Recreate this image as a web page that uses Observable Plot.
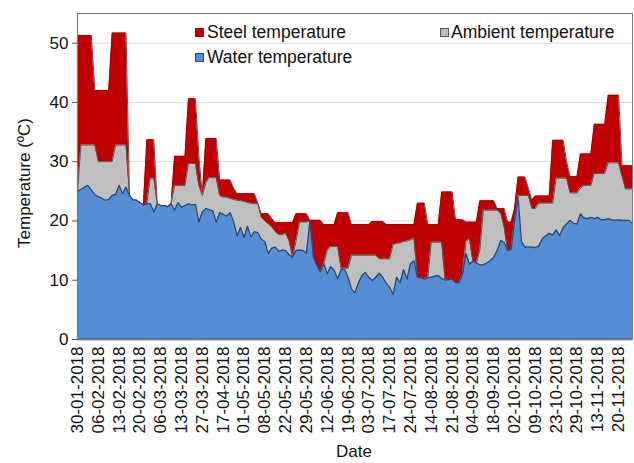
<!DOCTYPE html>
<html><head><meta charset="utf-8">
<script src="https://cdn.jsdelivr.net/npm/d3@7"></script>
<script src="https://cdn.jsdelivr.net/npm/@observablehq/plot@0.6"></script>
<style>
body{margin:0;background:#fff;font-family:"Liberation Sans",Arial,sans-serif;}
#wrap{position:relative;width:634px;height:463px;overflow:hidden;}
.leg{position:absolute;font-size:17.5px;line-height:20px;color:#111;white-space:nowrap;}
.sw{position:absolute;width:9px;height:9px;box-sizing:border-box;}
.ttl{position:absolute;font-size:17px;line-height:17px;color:#111;white-space:nowrap;}
</style></head><body><div id="wrap"></div>
<script>
const labels = ["30-01-2018","06-02-2018","13-02-2018","20-02-2018","06-03-2018","13-03-2018","27-03-2018","17-04-2018","01-05-2018","08-05-2018","22-05-2018","29-05-2018","12-06-2018","19-06-2018","03-07-2018","17-07-2018","24-07-2018","14-08-2018","21-08-2018","04-09-2018","18-09-2018","02-10-2018","09-10-2018","23-10-2018","29-10-2018","13-11-2018","20-11-2018"];
const labelStep = 6; // one labelled date every 6 measurements

const water = [
25.0,25.3,25.7,26.0,25.2,24.4,24.1,23.8,23.5,23.6,
24.3,24.5,26.0,24.6,25.7,24.3,23.5,23.5,23.1,22.7,
22.9,22.9,21.5,22.9,22.6,22.6,22.4,22.9,21.8,23.1,
22.3,22.6,22.9,22.7,22.8,19.8,21.5,22.1,21.9,21.7,
19.8,21.4,21.1,20.8,21.4,19.9,17.5,18.9,17.2,19.1,
17.3,18.2,18.0,16.9,16.5,14.5,15.4,15.6,14.9,15.1,
15.0,14.3,13.9,15.0,15.1,15.0,14.6,20.0,13.9,12.5,
11.4,12.8,11.1,12.3,11.7,10.2,11.8,11.8,10.5,8.5,
7.9,9.6,10.8,11.3,10.5,9.9,10.5,11.2,10.5,9.5,
8.8,7.6,10.5,9.6,11.8,10.2,12.8,13.3,10.5,10.4,
10.2,10.4,10.5,10.7,10.8,10.3,10.0,10.1,10.2,9.6,
9.6,11.0,14.5,12.7,13.2,12.9,12.6,12.6,12.9,13.3,
13.9,15.0,16.7,16.4,15.0,15.2,20.0,24.0,16.5,15.6,
15.6,15.6,15.5,15.8,17.0,17.5,17.9,17.6,18.5,17.5,
18.9,19.5,20.1,19.6,19.5,21.2,20.5,20.4,20.6,20.4,
20.6,20.2,20.2,20.4,20.2,20.1,20.2,20.1,20.1,20.1,
19.5];

const ambient = [
25.0,32.8,32.8,32.8,32.8,32.8,30.0,30.0,30.0,30.0,
30.0,32.8,32.8,32.8,32.8,24.3,23.5,23.5,23.1,22.7,
22.9,27.2,27.2,22.9,22.6,22.6,22.4,22.9,26.0,26.0,
26.0,26.0,29.7,29.7,29.7,26.0,24.3,26.5,27.3,27.3,
27.3,24.3,24.0,24.0,23.8,23.6,23.5,23.4,23.3,23.1,
23.0,22.9,22.9,20.6,20.0,19.5,19.0,18.2,17.7,17.7,
17.9,16.7,13.9,16.5,19.8,19.8,19.8,20.0,13.9,12.5,
11.4,12.8,15.0,15.7,15.7,15.7,12.0,12.0,12.0,14.2,
14.2,14.2,14.2,14.2,14.2,14.2,14.2,13.6,13.6,13.6,
13.6,16.0,16.2,16.3,16.5,16.6,16.8,17.1,10.5,10.4,
10.2,10.4,16.4,16.4,16.4,16.4,10.0,10.1,10.2,9.6,
9.6,11.0,16.5,17.0,13.2,12.9,15.0,21.8,21.8,21.8,
21.8,21.8,21.3,19.0,15.0,15.2,20.0,24.3,24.3,24.3,
24.3,22.1,22.1,23.0,23.0,23.0,23.0,23.0,27.2,27.2,
27.2,27.2,24.7,24.7,24.7,25.5,26.0,26.0,26.0,28.0,
28.0,28.0,28.0,29.8,29.8,29.8,29.8,27.5,25.4,25.4,
25.4];

const steel = [
51.3,51.3,51.3,51.3,51.3,42.0,42.0,42.0,42.0,42.0,
51.7,51.7,51.7,51.7,51.7,24.3,23.5,23.5,23.1,22.7,
33.7,33.7,33.7,22.9,22.6,22.6,22.4,22.9,30.9,30.9,
30.9,30.9,40.6,40.6,40.6,31.0,24.3,33.9,33.9,33.9,
33.9,26.9,26.9,26.9,26.9,25.5,24.6,24.6,24.6,24.6,
24.6,24.6,23.0,21.2,21.2,21.2,20.4,19.7,19.7,19.7,
19.7,19.7,19.7,21.2,21.2,21.2,21.2,20.1,20.1,20.1,
20.1,19.4,19.4,19.4,19.4,21.4,21.4,21.4,21.4,19.4,
19.4,19.4,19.4,19.4,19.4,19.9,19.9,19.9,19.9,19.4,
19.4,19.4,19.4,19.4,19.4,19.4,19.4,19.4,23.0,23.0,
23.0,19.4,19.4,19.4,19.4,24.9,24.9,24.9,24.9,20.2,
20.2,20.2,19.8,19.8,19.8,19.8,23.4,23.4,23.4,23.4,
23.4,22.1,22.1,22.1,19.8,19.8,22.0,27.4,27.4,27.4,
25.5,23.5,24.2,24.2,24.2,24.2,24.2,33.6,33.6,33.6,
33.6,30.0,27.5,27.5,27.5,31.3,31.3,31.3,31.3,36.3,
36.3,36.3,36.3,41.2,41.2,41.2,41.2,29.3,29.3,29.3,
29.3];

const yTicks = [0,10,20,30,40,50];
const series = [
  {name:"Steel temperature", fill:"#C00000", stroke:"#9A0000"},
  {name:"Ambient temperature", fill:"#BFBFBF", stroke:"#595959"},
  {name:"Water temperature", fill:"#558ED5", stroke:"#2A4A70"}
];

const rows = water.map((w, i) => ({i, water: w, ambient: ambient[i], steel: steel[i]}));
const font = '"Liberation Sans", Arial, sans-serif';

const chart = Plot.plot({
  width: 634, height: 463,
  marginLeft: 77, marginRight: 2, marginTop: 13, marginBottom: 124,
  style: {fontFamily: font, fontSize: "17px", color: "#111", background: "#fff", overflow: "visible"},
  x: {type: "linear", domain: [0, water.length - 1]},
  y: {domain: [0, 55]},
  marks: [
    Plot.gridY(yTicks.slice(1), {stroke: "#D9D9D9", strokeOpacity: 1, strokeWidth: 1}),
    Plot.areaY(rows, {x: "i", y: "steel", fill: series[0].fill}),
    Plot.lineY(rows, {x: "i", y: "steel", stroke: series[0].stroke, strokeWidth: 0.8}),
    Plot.areaY(rows, {x: "i", y: "ambient", fill: series[1].fill}),
    Plot.lineY(rows, {x: "i", y: "ambient", stroke: series[1].stroke, strokeWidth: 1}),
    Plot.areaY(rows, {x: "i", y: "water", fill: series[2].fill}),
    Plot.lineY(rows, {x: "i", y: "water", stroke: series[2].stroke, strokeWidth: 1.3}),
    Plot.axisY(yTicks, {tickSize: 5, tickPadding: 4, label: null, stroke: "#595959", fontSize: 17}),
    Plot.axisX(labels.map((d, j) => j * labelStep), {
      tickFormat: v => labels[v / labelStep], tickRotate: -90, tickSize: 0, tickPadding: 7,
      label: null, fontSize: 17
    }),
    Plot.ruleX([0], {stroke: "#404040", strokeWidth: 1.2}),
    Plot.ruleY([0], {stroke: "#1F2F45", strokeWidth: 1.5}),
    Plot.frame({stroke: "#7F7F7F", strokeWidth: 1})
  ]
});

const wrap = document.getElementById("wrap");
wrap.appendChild(chart);
chart.style.position = "absolute";
chart.style.left = "0px";
chart.style.top = "0px";

// legend
const legendPos = [
  {s: series[0], sx: 195, sy: 28, tx: 207, ty: 22},
  {s: series[1], sx: 440, sy: 28, tx: 451, ty: 22},
  {s: series[2], sx: 195, sy: 53, tx: 207, ty: 47}
];
legendPos.forEach(p => {
  const sw = document.createElement("div");
  sw.className = "sw";
  sw.style.left = p.sx + "px"; sw.style.top = p.sy + "px";
  sw.style.background = p.s.fill;
  if (p.s.fill !== "#C00000") sw.style.border = "1px solid " + p.s.stroke;
  wrap.appendChild(sw);
  const t = document.createElement("div");
  t.className = "leg";
  t.style.left = p.tx + "px"; t.style.top = p.ty + "px";
  t.textContent = p.s.name;
  wrap.appendChild(t);
});

// axis titles
const xt = document.createElement("div");
xt.className = "ttl"; xt.textContent = "Date";
xt.style.left = "354px"; xt.style.top = "443px"; xt.style.transform = "translateX(-50%)";
wrap.appendChild(xt);
const yt = document.createElement("div");
yt.className = "ttl"; yt.textContent = "Temperature (ºC)";
yt.style.left = "24px"; yt.style.top = "183px";
yt.style.transform = "translate(-50%,-50%) rotate(-90deg)";
wrap.appendChild(yt);
</script></body></html>
